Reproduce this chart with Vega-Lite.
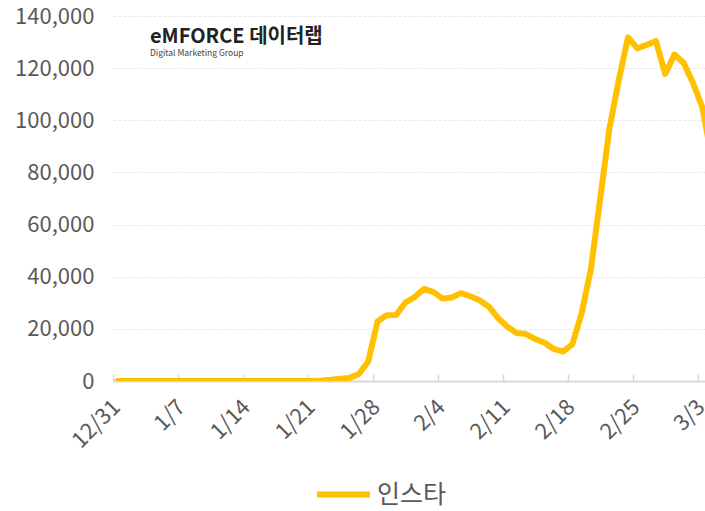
{
  "$schema": "https://vega.github.io/schema/vega-lite/v6.json",
  "width": 592,
  "height": 365,
  "autosize": {"type": "none"},
  "padding": {"left": 113, "top": 16, "right": 0, "bottom": 130},
  "background": "white",
  "config": {
    "font": "Noto Sans CJK KR",
    "view": {"stroke": null}
  },
  "title": {
    "text": "eMFORCE 데이터랩",
    "subtitle": "Digital Marketing Group",
    "anchor": "start",
    "frame": "group",
    "orient": "top",
    "dx": 37,
    "dy": 56,
    "fontSize": 20,
    "fontWeight": "bold",
    "color": "#222222",
    "subtitleFontSize": 8.5,
    "subtitleColor": "#444444",
    "subtitlePadding": 2
  },
  "data": {
    "values": [
      {"date": "2019-12-31T12:00:00Z", "series": "인스타", "value": 0},
      {"date": "2020-01-01T12:00:00Z", "series": "인스타", "value": 0},
      {"date": "2020-01-02T12:00:00Z", "series": "인스타", "value": 0},
      {"date": "2020-01-03T12:00:00Z", "series": "인스타", "value": 0},
      {"date": "2020-01-04T12:00:00Z", "series": "인스타", "value": 0},
      {"date": "2020-01-05T12:00:00Z", "series": "인스타", "value": 0},
      {"date": "2020-01-06T12:00:00Z", "series": "인스타", "value": 0},
      {"date": "2020-01-07T12:00:00Z", "series": "인스타", "value": 0},
      {"date": "2020-01-08T12:00:00Z", "series": "인스타", "value": 0},
      {"date": "2020-01-09T12:00:00Z", "series": "인스타", "value": 0},
      {"date": "2020-01-10T12:00:00Z", "series": "인스타", "value": 0},
      {"date": "2020-01-11T12:00:00Z", "series": "인스타", "value": 0},
      {"date": "2020-01-12T12:00:00Z", "series": "인스타", "value": 0},
      {"date": "2020-01-13T12:00:00Z", "series": "인스타", "value": 0},
      {"date": "2020-01-14T12:00:00Z", "series": "인스타", "value": 0},
      {"date": "2020-01-15T12:00:00Z", "series": "인스타", "value": 0},
      {"date": "2020-01-16T12:00:00Z", "series": "인스타", "value": 0},
      {"date": "2020-01-17T12:00:00Z", "series": "인스타", "value": 0},
      {"date": "2020-01-18T12:00:00Z", "series": "인스타", "value": 0},
      {"date": "2020-01-19T12:00:00Z", "series": "인스타", "value": 0},
      {"date": "2020-01-20T12:00:00Z", "series": "인스타", "value": 0},
      {"date": "2020-01-21T12:00:00Z", "series": "인스타", "value": 0},
      {"date": "2020-01-22T12:00:00Z", "series": "인스타", "value": 200},
      {"date": "2020-01-23T12:00:00Z", "series": "인스타", "value": 500},
      {"date": "2020-01-24T12:00:00Z", "series": "인스타", "value": 900},
      {"date": "2020-01-25T12:00:00Z", "series": "인스타", "value": 1200},
      {"date": "2020-01-26T12:00:00Z", "series": "인스타", "value": 2700},
      {"date": "2020-01-27T12:00:00Z", "series": "인스타", "value": 7500},
      {"date": "2020-01-28T12:00:00Z", "series": "인스타", "value": 22800},
      {"date": "2020-01-29T12:00:00Z", "series": "인스타", "value": 25200},
      {"date": "2020-01-30T12:00:00Z", "series": "인스타", "value": 25300},
      {"date": "2020-01-31T12:00:00Z", "series": "인스타", "value": 30000},
      {"date": "2020-02-01T12:00:00Z", "series": "인스타", "value": 32200},
      {"date": "2020-02-02T12:00:00Z", "series": "인스타", "value": 35300},
      {"date": "2020-02-03T12:00:00Z", "series": "인스타", "value": 34200},
      {"date": "2020-02-04T12:00:00Z", "series": "인스타", "value": 31600},
      {"date": "2020-02-05T12:00:00Z", "series": "인스타", "value": 32000},
      {"date": "2020-02-06T12:00:00Z", "series": "인스타", "value": 33700},
      {"date": "2020-02-07T12:00:00Z", "series": "인스타", "value": 32500},
      {"date": "2020-02-08T12:00:00Z", "series": "인스타", "value": 31000},
      {"date": "2020-02-09T12:00:00Z", "series": "인스타", "value": 28500},
      {"date": "2020-02-10T12:00:00Z", "series": "인스타", "value": 24100},
      {"date": "2020-02-11T12:00:00Z", "series": "인스타", "value": 20800},
      {"date": "2020-02-12T12:00:00Z", "series": "인스타", "value": 18400},
      {"date": "2020-02-13T12:00:00Z", "series": "인스타", "value": 18000},
      {"date": "2020-02-14T12:00:00Z", "series": "인스타", "value": 16100},
      {"date": "2020-02-15T12:00:00Z", "series": "인스타", "value": 14700},
      {"date": "2020-02-16T12:00:00Z", "series": "인스타", "value": 12300},
      {"date": "2020-02-17T12:00:00Z", "series": "인스타", "value": 11300},
      {"date": "2020-02-18T12:00:00Z", "series": "인스타", "value": 14100},
      {"date": "2020-02-19T12:00:00Z", "series": "인스타", "value": 26000},
      {"date": "2020-02-20T12:00:00Z", "series": "인스타", "value": 43000},
      {"date": "2020-02-21T12:00:00Z", "series": "인스타", "value": 70000},
      {"date": "2020-02-22T12:00:00Z", "series": "인스타", "value": 97000},
      {"date": "2020-02-23T12:00:00Z", "series": "인스타", "value": 115500},
      {"date": "2020-02-24T12:00:00Z", "series": "인스타", "value": 131800},
      {"date": "2020-02-25T12:00:00Z", "series": "인스타", "value": 127600},
      {"date": "2020-02-26T12:00:00Z", "series": "인스타", "value": 128900},
      {"date": "2020-02-27T12:00:00Z", "series": "인스타", "value": 130400},
      {"date": "2020-02-28T12:00:00Z", "series": "인스타", "value": 117800},
      {"date": "2020-02-29T12:00:00Z", "series": "인스타", "value": 125200},
      {"date": "2020-03-01T12:00:00Z", "series": "인스타", "value": 122000},
      {"date": "2020-03-02T12:00:00Z", "series": "인스타", "value": 114300},
      {"date": "2020-03-03T12:00:00Z", "series": "인스타", "value": 105000},
      {"date": "2020-03-04T12:00:00Z", "series": "인스타", "value": 86000}
    ]
  },
  "mark": {"type": "line", "strokeWidth": 6, "strokeJoin": "round", "strokeCap": "round", "clip": true},
  "encoding": {
    "x": {
      "field": "date",
      "type": "temporal",
      "scale": {
        "type": "utc",
        "domain": [
          {"year": 2019, "month": 12, "date": 31, "utc": true},
          {"year": 2020, "month": 3, "date": 3, "hours": 19, "utc": true}
        ]
      },
      "axis": {
        "title": null,
        "labelExpr": "utcFormat(datum.value, '%-m/%-d')",
        "values": [
          {"year": 2019, "month": 12, "date": 31, "utc": true},
          {"year": 2020, "month": 1, "date": 7, "utc": true},
          {"year": 2020, "month": 1, "date": 14, "utc": true},
          {"year": 2020, "month": 1, "date": 21, "utc": true},
          {"year": 2020, "month": 1, "date": 28, "utc": true},
          {"year": 2020, "month": 2, "date": 4, "utc": true},
          {"year": 2020, "month": 2, "date": 11, "utc": true},
          {"year": 2020, "month": 2, "date": 18, "utc": true},
          {"year": 2020, "month": 2, "date": 25, "utc": true},
          {"year": 2020, "month": 3, "date": 3, "utc": true}
        ],
        "grid": false,
        "labelAngle": -45,
        "labelFontSize": 22,
        "labelColor": "#595959",
        "labelPadding": 22,
        "labelOffset": -4,
        "labelFlush": false,
        "labelOverlap": false,
        "domainColor": "#d9d9d9",
        "domainWidth": 2,
        "tickColor": "#d9d9d9",
        "tickWidth": 1.5,
        "tickSize": -7
      }
    },
    "y": {
      "field": "value",
      "type": "quantitative",
      "scale": {"domain": [0, 140000], "nice": false},
      "axis": {
        "title": null,
        "values": [0, 20000, 40000, 60000, 80000, 100000, 120000, 140000],
        "labelExpr": "format(datum.value, ',.0f')",
        "domain": false,
        "ticks": false,
        "labelFontSize": 22,
        "labelColor": "#595959",
        "labelPadding": 19,
        "gridColor": "#e6e6e6",
        "gridDash": [3, 2],
        "gridWidth": 1
      }
    },
    "color": {
      "field": "series",
      "type": "nominal",
      "scale": {"range": ["#FFC000"]},
      "legend": {
        "title": null,
        "orient": "none",
        "legendX": 201,
        "legendY": 449,
        "direction": "horizontal",
        "symbolType": "stroke",
        "symbolSize": 2800,
        "symbolStrokeWidth": 6,
        "labelFontSize": 25,
        "labelColor": "#595959",
        "labelOffset": 4
      }
    }
  }
}
